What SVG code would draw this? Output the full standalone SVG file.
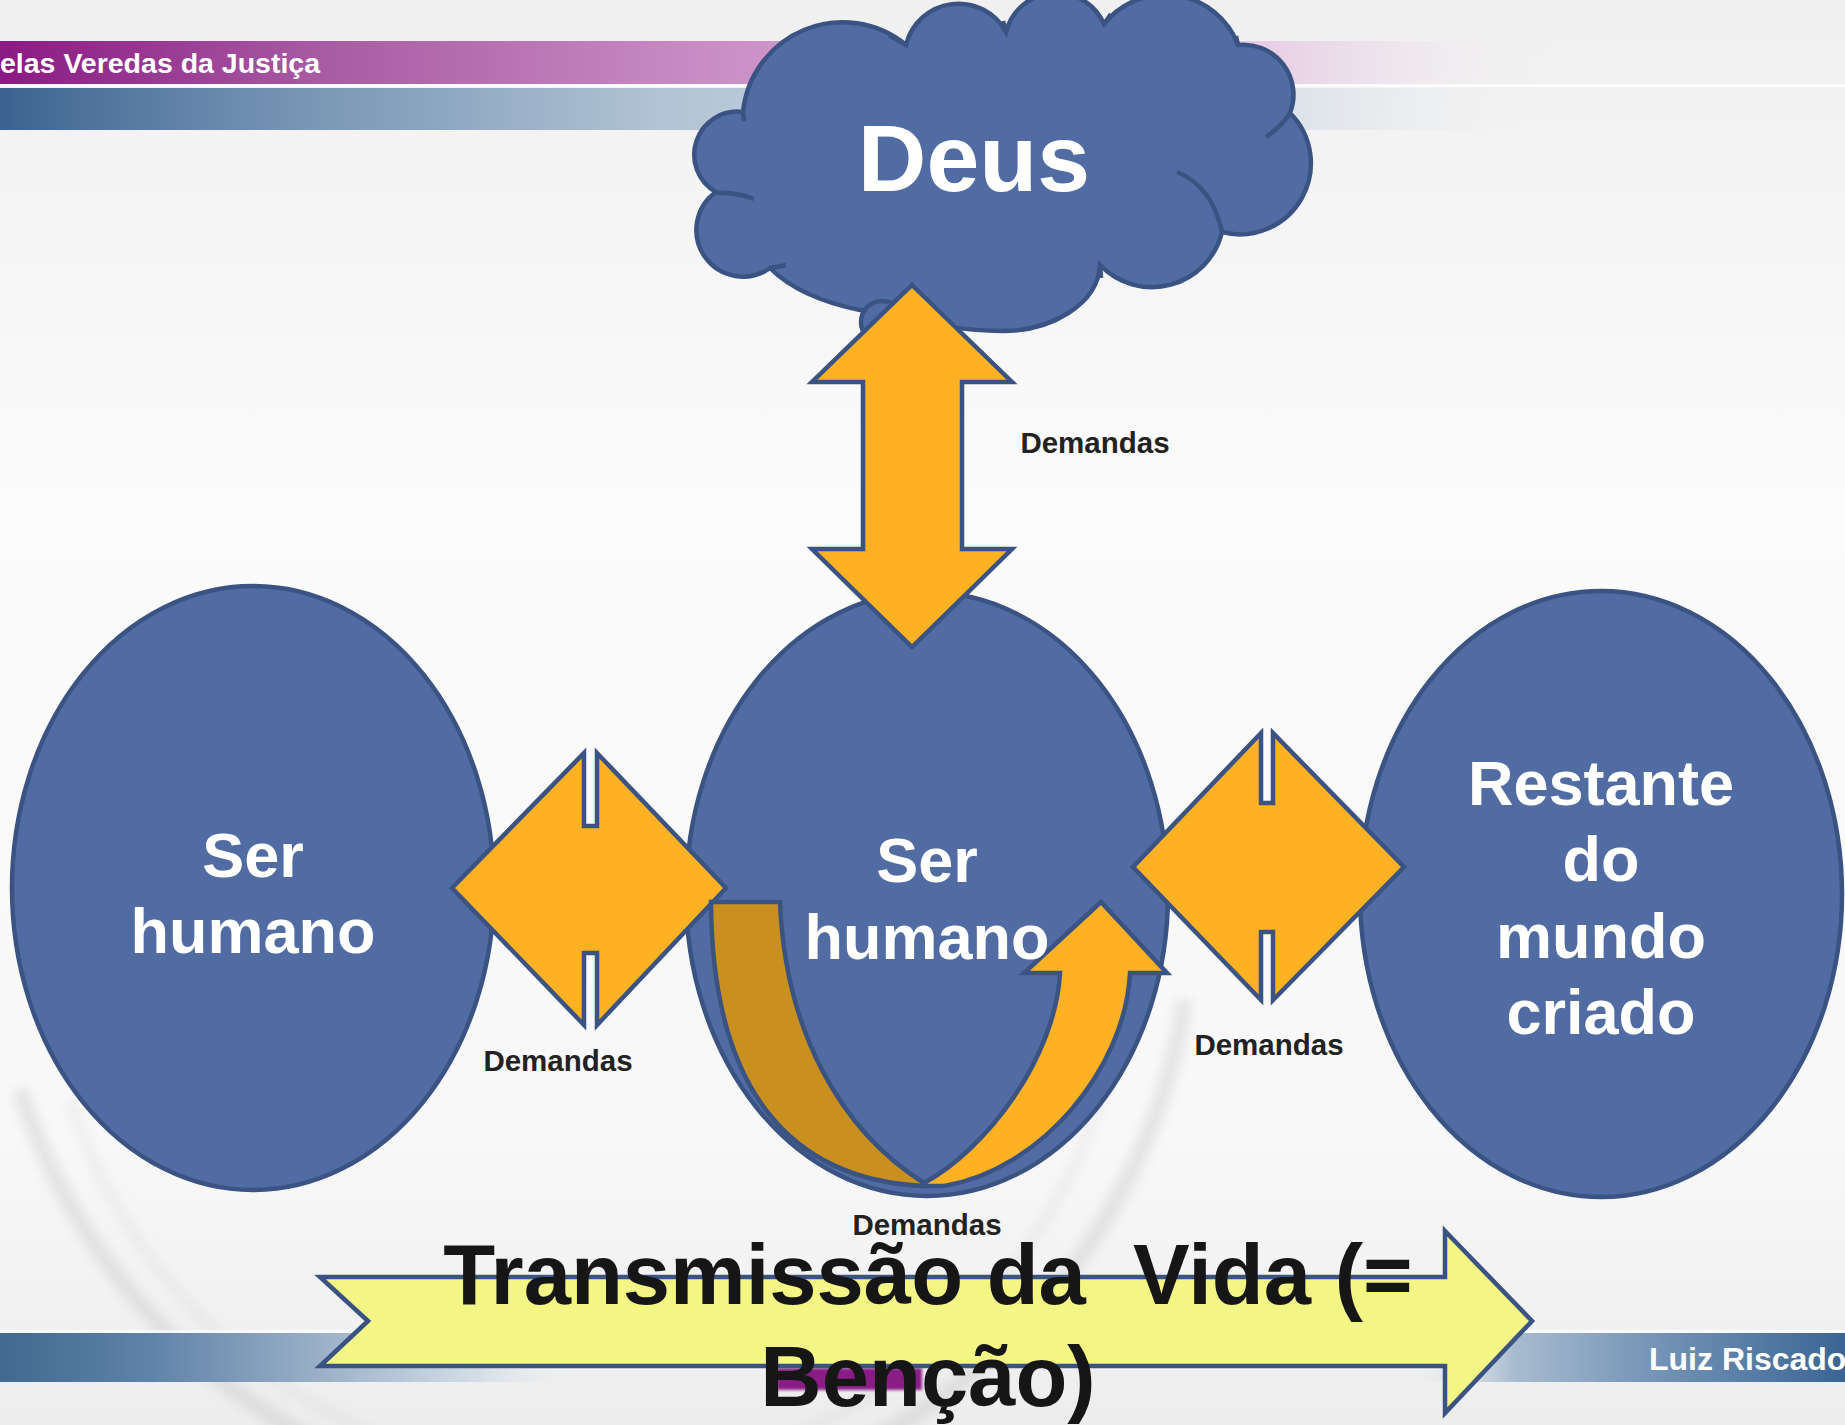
<svg xmlns="http://www.w3.org/2000/svg" width="1845" height="1425" viewBox="0 0 1845 1425">
<style>
.node{fill:#516CA2;stroke:#3A5382;stroke-width:4.5}
.arr{fill:#FDB123;stroke:#3A5382;stroke-width:4.5;stroke-linejoin:miter}
.lbl{font-family:"Liberation Sans",Arial,sans-serif;font-weight:bold;fill:#FFFFFF;text-anchor:middle}
.dem{font-family:"Liberation Sans",Arial,sans-serif;font-weight:bold;fill:#222222;font-size:29.5px;text-anchor:middle}
.tick{fill:none;stroke:#3A5382;stroke-width:4.5;stroke-linecap:butt}
</style>
<defs>
<linearGradient id="bg" x1="0" y1="0" x2="0" y2="1">
<stop offset="0" stop-color="#F0F0F0"/><stop offset="0.35" stop-color="#FBFBFB"/><stop offset="0.8" stop-color="#F8F8F8"/><stop offset="1" stop-color="#EDEDED"/>
</linearGradient>
<linearGradient id="purp" gradientUnits="userSpaceOnUse" x1="0" y1="0" x2="1845" y2="0">
<stop offset="0" stop-color="#8A1A84"/><stop offset="0.17" stop-color="#A75AA2"/><stop offset="0.38" stop-color="#C98CC5"/><stop offset="0.68" stop-color="#E6CBE4"/><stop offset="0.85" stop-color="#F2F2F2" stop-opacity="0"/>
</linearGradient>
<linearGradient id="blu" gradientUnits="userSpaceOnUse" x1="0" y1="0" x2="1845" y2="0">
<stop offset="0" stop-color="#3C6390"/><stop offset="0.13" stop-color="#6D8DAF"/><stop offset="0.36" stop-color="#B2C4D5"/><stop offset="0.7" stop-color="#DCE3EA"/><stop offset="0.83" stop-color="#EEEEEE" stop-opacity="0"/>
</linearGradient>
<linearGradient id="bot" gradientUnits="userSpaceOnUse" x1="0" y1="0" x2="1845" y2="0">
<stop offset="0" stop-color="#42698F"/><stop offset="0.08" stop-color="#5E82A8"/><stop offset="0.17" stop-color="#98AEC6"/><stop offset="0.26" stop-color="#D5DEE8"/><stop offset="0.32" stop-color="#F2F2F2" stop-opacity="0"/><stop offset="0.76" stop-color="#F2F2F2" stop-opacity="0"/><stop offset="0.82" stop-color="#A9BCD0"/><stop offset="0.88" stop-color="#7F9CBC"/><stop offset="1" stop-color="#3A6594"/>
</linearGradient>
<filter id="blur" x="-10%" y="-10%" width="120%" height="120%"><feGaussianBlur stdDeviation="6"/></filter>
<filter id="blur2"><feGaussianBlur stdDeviation="1.5"/></filter>
</defs>

<g id="background">
<rect x="0" y="0" width="1845" height="1425" fill="url(#bg)"/>
<g filter="url(#blur)" fill="none" stroke="#BDBDBD" opacity="0.35">
<path d="M1185,1000 A600,600 0 0 1 20,1090" stroke-width="16"/>
<path d="M1120,1010 A540,540 0 0 1 70,1100" stroke-width="8" stroke="#D0D0D0"/>
</g>
<rect x="0" y="41" width="1845" height="43" fill="url(#purp)"/>
<rect x="0" y="84" width="1845" height="3" fill="#FFFFFF" opacity="0.8"/>
<rect x="0" y="88" width="1845" height="42" fill="url(#blu)"/>
<rect x="0" y="1333" width="1845" height="49" fill="url(#bot)"/>
<rect x="0" y="1330" width="1845" height="3" fill="#FFFFFF" opacity="0.6"/>
<rect x="777" y="1368" width="145" height="22" fill="#8A1A86" filter="url(#blur2)"/>
<text x="0" y="73" font-family="Liberation Sans, Arial, sans-serif" font-weight="bold" font-size="28.5" fill="#FFFFFF">elas Veredas da Justiça</text>
<text x="1649" y="1370" font-family="Liberation Sans, Arial, sans-serif" font-weight="bold" font-size="32" fill="#FFFFFF">Luiz Riscado</text>
</g>

<g id="deus">
<path class="node" d="M743,112 A100,100 0 0 1 906,45 A54,54 0 0 1 1006,32 A52,52 0 0 1 1104,24 A78,78 0 0 1 1238,45 A50,50 0 0 1 1290,113 A71,71 0 0 1 1222,232 A72,72 0 0 1 1100,265 C1098,305 1050,331 1003,331 C950,331 900,318 860,310 C820,302 790,288 770,268 A46,46 0 0 1 716,192 A43,43 0 0 1 743,112 Z"/>
<path class="tick" d="M743,112 L744,121 M717,193 Q735,192 754,199 M770,268 Q777,267 786,265 M1100,265 L1101,278 M1177,172 Q1212,186 1222,232 M1290,113 Q1282,126 1266,137 M1238,45 L1236,36 M1104,24 L1111,14 M1006,32 L1003,21 M906,45 L889,35"/>
<circle class="node" cx="882" cy="322" r="21"/>
<text class="lbl" x="974" y="191" font-size="95">Deus</text>
</g>

<g id="ser-humano-1">
<ellipse class="node" cx="253" cy="888" rx="241" ry="302"/>
</g>
<g id="ser-humano-2">
<ellipse class="node" cx="927" cy="894" rx="241" ry="302"/>
</g>
<g id="restante">
<ellipse class="node" cx="1601" cy="894" rx="241" ry="303"/>
</g>

<g id="connectors">
<path id="arrow-deus" class="arr" d="M912,285 L1012,382 L962,382 L962,549 L1012,549 L912,647 L812,549 L863,549 L863,382 L812,382 Z"/>
<path id="arrow-left" class="arr" d="M452,888 L584,753 L584,826 L597,826 L597,753 L726,888 L597,1025 L597,953 L584,953 L584,1025 Z"/>
<path id="arrow-right" class="arr" d="M1133,867 L1261,733 L1261,803 L1273,803 L1273,733 L1404,867 L1273,1000 L1273,932 L1261,932 L1261,1000 Z"/>
<g id="arrow-self">
<path class="arr" style="fill:#CA901F" d="M711,902 L780,902 C785,1030 840,1130 924,1183 L924,1186 C790,1180 712,1090 711,902 Z"/>
<path class="arr" d="M924,1183 C985,1150 1055,1060 1060,973 L1024,973 L1101,902 L1167,973 L1130,973 C1125,1070 1040,1170 944,1186 L924,1186 Z"/>
</g>
<path id="arrow-vida" fill="#F3F584" stroke="#3A5382" stroke-width="4.5" d="M320,1277 L1445,1277 L1445,1231 L1532,1321 L1445,1413 L1445,1366 L320,1366 L368,1321 Z"/>
<text class="dem" x="1095" y="453">Demandas</text>
<text class="dem" x="558" y="1071">Demandas</text>
<text class="dem" x="1269" y="1055">Demandas</text>
<text class="dem" x="927" y="1235">Demandas</text>
</g>

<g id="labels">
<text class="lbl" x="253" y="877" font-size="63">Ser</text>
<text class="lbl" x="253" y="953" font-size="63">humano</text>
<text class="lbl" x="927" y="882" font-size="63">Ser</text>
<text class="lbl" x="927" y="959" font-size="63">humano</text>
<text class="lbl" x="1601" y="805" font-size="63">Restante</text>
<text class="lbl" x="1601" y="881" font-size="63">do</text>
<text class="lbl" x="1601" y="958" font-size="63">mundo</text>
<text class="lbl" x="1601" y="1034" font-size="63">criado</text>
<text xml:space="preserve" x="928" y="1304" font-family="Liberation Sans, Arial, sans-serif" font-weight="bold" font-size="85" fill="#161616" text-anchor="middle">Transmissão da  Vida (=</text>
<text x="928" y="1406" font-family="Liberation Sans, Arial, sans-serif" font-weight="bold" font-size="85" fill="#161616" text-anchor="middle">Benção)</text>
</g>
</svg>
